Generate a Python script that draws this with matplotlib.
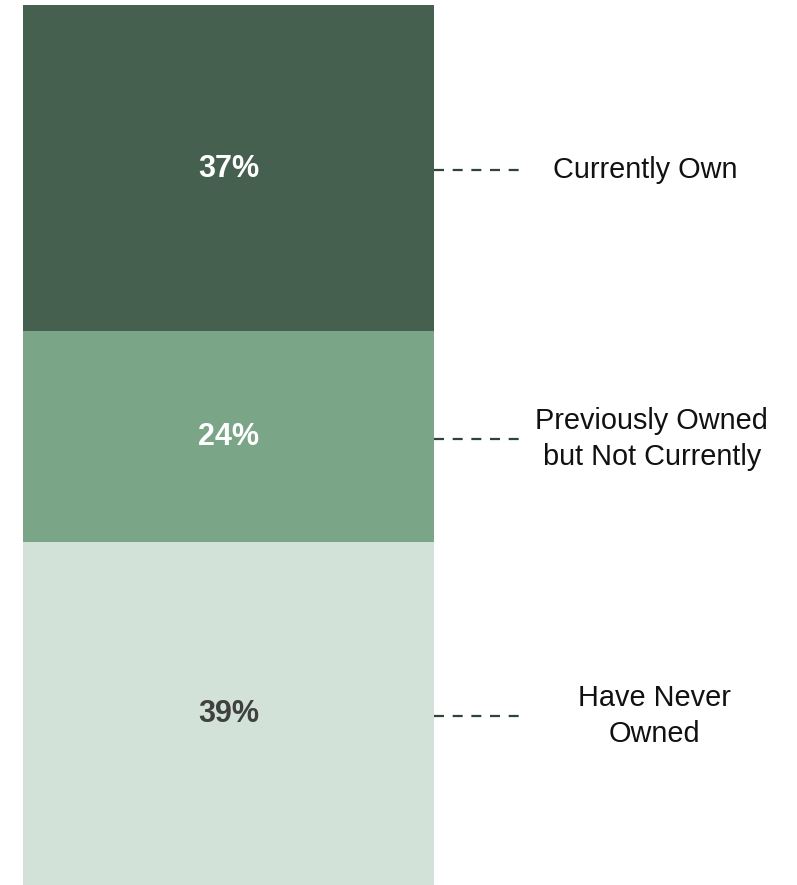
import matplotlib
matplotlib.use("Agg")
import matplotlib.pyplot as plt

categories = ["Currently Own", "Previously Owned\nbut Not Currently", "Have Never\nOwned"]
values = [37, 24, 39]
colors = ["#46604f", "#7aa587", "#d2e2d8"]
text_colors = ["white", "white", "#404040"]

plt.rcParams['font.family'] = ['Liberation Sans', 'DejaVu Sans']

W, H = 797, 885
fig = plt.figure(figsize=(W / 100, H / 100), dpi=100)
ax = fig.add_axes([23 / W, 0, (434 - 23) / W, 880 / H])
ax.set_xlim(0, 1)
ax.set_ylim(0, sum(values))
ax.axis('off')

label_x = [1.513, 1.530, 1.537]  # axes-fraction centers of side labels

top = sum(values)
for cat, v, c, tc, lx in zip(categories, values, colors, text_colors, label_x):
    bottom = top - v
    ax.bar(0.5, v, width=1.0, bottom=bottom, color=c, edgecolor='none')
    mid = bottom + v / 2
    ax.text(0.5, mid - 0.1, f"{v}%", ha='center', va='center', color=tc,
            fontsize=22, fontweight='bold')
    ax.plot([1.0, 1.207], [mid - 0.3, mid - 0.3], color='#2e4436', lw=1.6,
            linestyle=(0, (4.5, 3.9)), clip_on=False,
            dash_capstyle='butt')
    ax.text(lx, mid - 0.3, cat, ha='center', va='center', color='#111111',
            fontsize=20.8, linespacing=1.35, clip_on=False)
    top = bottom

fig.savefig("out.png", dpi=100)
